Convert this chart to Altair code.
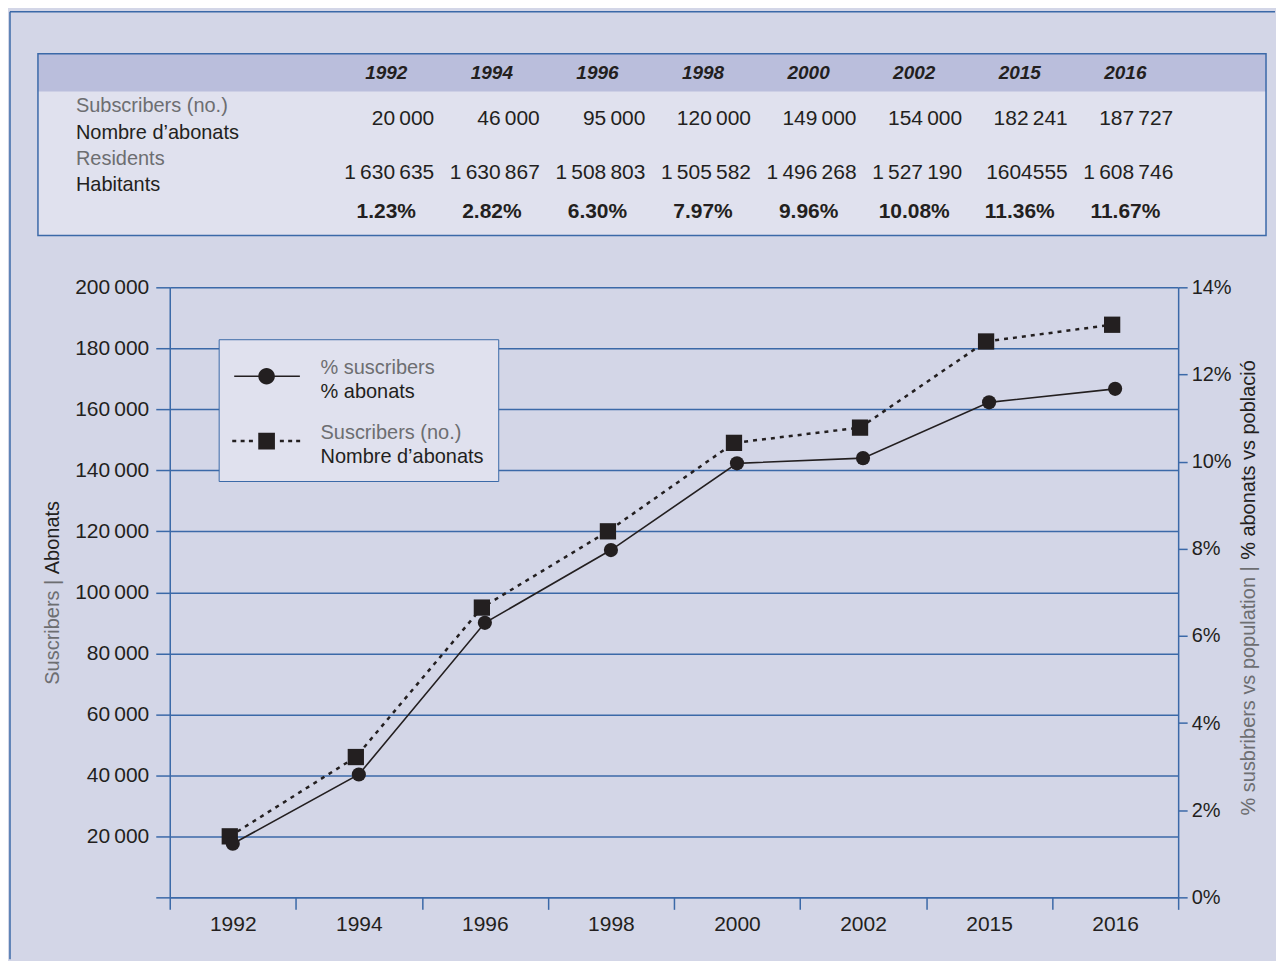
import altair as alt
import pandas as pd

# ---------------- data ----------------
years = ["1992", "1994", "1996", "1998", "2000", "2002", "2015", "2016"]
subscribers = [20000, 46000, 95000, 120000, 149000, 154000, 182241, 187727]
residents = [1630635, 1630867, 1508803, 1505582, 1496268, 1527190, 1604555, 1608746]
pct_subscribers = [1.23, 2.82, 6.30, 7.97, 9.96, 10.08, 11.36, 11.67]

TS = "\u2009"  # thin space used as thousands separator
subscribers_text = ["20" + TS + "000", "46" + TS + "000", "95" + TS + "000", "120" + TS + "000",
                    "149" + TS + "000", "154" + TS + "000", "182" + TS + "241", "187" + TS + "727"]
residents_text = ["1" + TS + "630" + TS + "635", "1" + TS + "630" + TS + "867", "1" + TS + "508" + TS + "803",
                  "1" + TS + "505" + TS + "582", "1" + TS + "496" + TS + "268", "1" + TS + "527" + TS + "190",
                  "1604555", "1" + TS + "608" + TS + "746"]
pct_text = ["1.23%", "2.82%", "6.30%", "7.97%", "9.96%", "10.08%", "11.36%", "11.67%"]

row_labels_en = ["Subscribers (no.)", "Residents"]
row_labels_ca = ["Nombre d\u2019abonats", "Habitants"]
legend_en = ["% suscribers", "Suscribers (no.)"]
legend_ca = ["% abonats", "Nombre d\u2019abonats"]
left_title = ["Suscribers |", "Abonats"]
right_title = ["% susbribers vs population |", "% abonats vs poblaci\u00f3"]
y_left_ticks = [0, 20000, 40000, 60000, 80000, 100000, 120000, 140000, 160000, 180000, 200000]
y_right_ticks = [0, 0.02, 0.04, 0.06, 0.08, 0.10, 0.12, 0.14]

# ---------------- style ----------------
BG = "#d3d6e7"
HEAD = "#babedc"
BODY = "#e0e1ee"
BLUE = "#3b69a8"
INK = "#231f20"
GRAY = "#6d6e71"
FONT = "Liberation Sans"
W, H = 1010, 611

df = pd.DataFrame({
    "year": years,
    "subs": subscribers,
    "res": residents,
    "pct": [p / 100 for p in pct_subscribers],
    "subs_t": subscribers_text,
    "res_t": residents_text,
    "pct_t": pct_text,
})
one = pd.DataFrame({"k": [0]})


def deco_rect(x, x2, y, y2, **mk):
    return alt.Chart(one).mark_rect(**mk).encode(
        x=alt.value(x), x2=alt.value(x2), y=alt.value(y), y2=alt.value(y2))


def text_at(txt, x, y, **mk):
    return alt.Chart(pd.DataFrame({"t": [txt]})).mark_text(font=FONT, **mk).encode(
        x=alt.value(x), y=alt.value(y), text="t:N")


# ---------------- outer frame ----------------
frame_top = alt.Chart(one).mark_rule(color=BLUE, strokeWidth=1.5).encode(
    x=alt.value(-160), x2=alt.value(1107), y=alt.value(-276))
frame_left = alt.Chart(one).mark_rule(color=BLUE, strokeWidth=1.5).encode(
    x=alt.value(-160), y=alt.value(-276), y2=alt.value(673))

# ---------------- table ----------------
tbl_body = deco_rect(-132, 1098, -234, -52, fill=BODY)
tbl_head = deco_rect(-132, 1098, -234, -196, fill=HEAD)
tbl_border = deco_rect(-132, 1098, -234, -52, fillOpacity=0, stroke=BLUE, strokeWidth=1.5)

tx = alt.X("year:N", scale=alt.Scale(type="point", domain=years, range=[164, 1010]), axis=None)
tbase = alt.Chart(df)
t_head = tbase.mark_text(font=FONT, fontSize=19, fontWeight="bold", fontStyle="italic",
                         color=INK, baseline="middle").encode(x=tx, y=alt.value(-215), text="year:N")
t_subs = tbase.mark_text(font=FONT, fontSize=21, color=INK, align="right", dx=48,
                         baseline="middle").encode(x=tx, y=alt.value(-169), text="subs_t:N")
t_res = tbase.mark_text(font=FONT, fontSize=21, color=INK, align="right", dx=48,
                        baseline="middle").encode(x=tx, y=alt.value(-114), text="res_t:N")
t_pct = tbase.mark_text(font=FONT, fontSize=21, fontWeight="bold", color=INK,
                        baseline="middle").encode(x=tx, y=alt.value(-75), text="pct_t:N")

lab1 = text_at(row_labels_en[0], -94, -182, fontSize=20, color=GRAY, align="left", baseline="middle")
lab2 = text_at(row_labels_ca[0], -94, -155, fontSize=20, color=INK, align="left", baseline="middle")
lab3 = text_at(row_labels_en[1], -94, -129, fontSize=20, color=GRAY, align="left", baseline="middle")
lab4 = text_at(row_labels_ca[1], -94, -102, fontSize=20, color=INK, align="left", baseline="middle")

# ---------------- axis titles (two colours) ----------------
lt1 = text_at(left_title[0], -117, 398, fontSize=20, color=GRAY, angle=270, align="left", baseline="middle")
lt2 = text_at(left_title[1], -117, 214, fontSize=20, color=INK, angle=270, align="right", baseline="middle")
rt1 = text_at(right_title[0], 1081, 529, fontSize=20, color=GRAY, angle=270, align="left", baseline="middle")
rt2 = text_at(right_title[1], 1081, 73, fontSize=20, color=INK, angle=270, align="right", baseline="middle")

# ---------------- main plot ----------------
x_axis = alt.Axis(orient="bottom", title=None, labelAngle=0, tickBand="extent", tickSize=12,
                  tickColor=BLUE, tickWidth=1.5, domainColor=BLUE, domainWidth=1.5,
                  labelPadding=4, labelFont=FONT, labelFontSize=21, labelColor=INK, grid=False)
X_main = alt.X("year:N", sort=years,
               scale=alt.Scale(type="band", domain=years, paddingInner=0, paddingOuter=0),
               axis=x_axis)
X_main_noaxis = alt.X("year:N", sort=years,
                      scale=alt.Scale(type="band", domain=years, paddingInner=0, paddingOuter=0),
                      axis=None)

left_axis = alt.Axis(orient="left", values=y_left_ticks, title=None,
                     labelExpr="datum.value == 0 ? '' : replace(format(datum.value, ','), ',', '" + TS + "')",
                     grid=True, gridColor=BLUE, gridWidth=1.5,
                     domainColor=BLUE, domainWidth=1.5, tickColor=BLUE, tickWidth=1.5, tickSize=14,
                     labelPadding=7, labelFont=FONT, labelFontSize=21, labelColor=INK)
right_axis = alt.Axis(orient="right", values=y_right_ticks, format=".0%", title=None, grid=False,
                      domainColor=BLUE, domainWidth=1.5, tickColor=BLUE, tickWidth=1.5, tickSize=9,
                      labelPadding=4, labelFont=FONT, labelFontSize=20, labelColor=INK)

subs_base = alt.Chart(df).encode(
    x=X_main,
    y=alt.Y("subs:Q", scale=alt.Scale(domain=[0, 200000], nice=False, zero=True), axis=left_axis),
)
subs_line = subs_base.mark_line(color=INK, strokeWidth=2.5, strokeDash=[4, 5], xOffset=-3)
subs_pts = subs_base.mark_point(shape="square", filled=True, size=266, color=INK, opacity=1, xOffset=-3)
subs_layer = alt.layer(subs_line, subs_pts)

pct_base = alt.Chart(df).encode(
    x=X_main_noaxis,
    y=alt.Y("pct:Q", scale=alt.Scale(domain=[0, 0.14], nice=False, zero=True), axis=right_axis),
)
pct_line = pct_base.mark_line(color=INK, strokeWidth=1.6)
pct_pts = pct_base.mark_point(shape="circle", filled=True, size=201, color=INK, opacity=1)
pct_layer = alt.layer(pct_line, pct_pts)

# ---------------- legend (two overlaid legends for two text colours) ----------------
P_CIRC = ("M-1.41,-0.033H-0.3V0.033H-1.41Z M0.3,-0.033H1.45V0.033H0.3Z "
          "M0.36,0A0.36,0.36,0,1,1,-0.36,0A0.36,0.36,0,1,1,0.36,0Z")
dash_spans = [(-1.496, -1.322), (-1.130, -0.957), (-0.770, -0.596), (0.578, 0.752), (0.939, 1.113), (1.287, 1.461)]
P_SQ = " ".join("M%.3f,-0.054H%.3fV0.054H%.3fZ" % (a, b, a) for a, b in dash_spans) + \
       " M-0.363,-0.363H0.363V0.363H-0.363Z"

exprA = "['\u00a0', datum.label]"
exprB = "[datum.label, '\u00a0']"

common_leg = dict(title=None, orient="none", legendX=49, padding=14,
                  symbolSize=2116, symbolOffset=11, labelOffset=31, rowPadding=16,
                  symbolStrokeWidth=0,
                  labelFont=FONT, labelFontSize=20, labelBaseline="alphabetic", labelLimit=400)

# legend A: box + symbols + dark (Catalan) labels
legA = alt.Chart(pd.DataFrame({"key_a": legend_ca})).transform_filter("false").mark_point(
    filled=True, opacity=1, color=INK).encode(
    shape=alt.Shape("key_a:N", scale=alt.Scale(domain=legend_ca, range=[P_CIRC, P_SQ]),
                    legend=alt.Legend(legendY=52, fillColor=BODY, strokeColor=BLUE,
                                      symbolFillColor=INK, symbolOpacity=1,
                                      labelColor=INK, labelExpr=exprA, **common_leg)))

# legend B: grey (English) labels only
legB = alt.Chart(pd.DataFrame({"key_b": legend_en})).transform_filter("false").mark_point(
    filled=True, opacity=1, color=INK).encode(
    strokeDash=alt.StrokeDash("key_b:N", scale=alt.Scale(domain=legend_en, range=[[1, 0], [4, 4]]),
                              legend=alt.Legend(legendY=50, symbolOpacity=0, labelColor=GRAY,
                                                labelExpr=exprB, **common_leg)))

chart = alt.layer(
    frame_top, frame_left,
    tbl_body, tbl_head, tbl_border,
    t_head, t_subs, t_res, t_pct, lab1, lab2, lab3, lab4,
    lt1, lt2, rt1, rt2,
    subs_layer, pct_layer,
    legA, legB,
).resolve_scale(x="independent", y="independent").properties(
    width=W, height=H, background=BG,
    padding={"left": 1, "top": 2, "right": 0, "bottom": 0},
).configure_view(stroke="transparent")

chart.save("out.html", embed_options={"renderer": "svg", "actions": False})
